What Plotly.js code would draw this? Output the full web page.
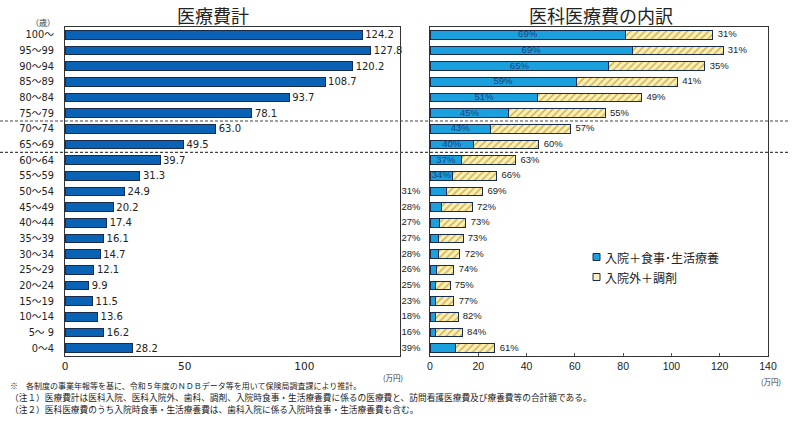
<!DOCTYPE html>
<html>
<head>
<meta charset="utf-8">
<script src="https://cdn.plot.ly/plotly-3.0.1.min.js"></script>
<style>
  html, body { margin: 0; padding: 0; background: #fff; }
  #chart { width: 800px; height: 427px; }
</style>
</head>
<body>
<div id="chart"></div>
<script>
// Age groups (top to bottom)
const ages = ['100～','95～99','90～94','85～89','80～84','75～79','70～74','65～69','60～64','55～59',
              '50～54','45～49','40～44','35～39','30～34','25～29','20～24','15～19','10～14','5～ 9','0～4'];

// Total medical expenses per person (万円)
const totalCost = [124.2,127.8,120.2,108.7,93.7,78.1,63.0,49.5,39.7,31.3,
                   24.9,20.2,17.4,16.1,14.7,12.1,9.9,11.5,13.6,16.2,28.2];

// Medical (医科) expenses per person (万円)
const ikaCost = [117.2,121.4,113.9,102.5,87.7,72.6,58.3,45.1,35.5,27.6,
                 21.8,17.5,14.9,13.7,12.4,9.9,8.3,9.9,11.6,13.4,26.9];

// Share of inpatient + meals/living care, and of outpatient + dispensing (%)
const inpatientPct  = [69,69,65,59,51,45,43,40,37,34,31,28,27,27,28,26,25,23,18,16,39];
const outpatientPct = [31,31,35,41,49,55,57,60,63,66,69,72,73,73,72,74,75,77,82,84,61];

// Series names
const seriesNames = ['入院＋食事･生活療養', '入院外＋調剤'];

const inpatientVal  = ikaCost.map((v, i) => v * inpatientPct[i] / 100);
const outpatientVal = ikaCost.map((v, i) => v * outpatientPct[i] / 100);

const NUM_FONT = 'DejaVu Sans, Verdana, Noto Sans CJK JP, sans-serif';
const JP_FONT = 'Noto Sans CJK JP, sans-serif';
const PCT_FONT = 'Liberation Sans Narrow, Liberation Sans, Arial, sans-serif';

const INP_COLOR = '#1aa0dd';
const OUT_BG = '#f9efbd';
const OUT_FG = '#d6b443';
const EDGE = '#1a2c4e';

const insideIdx = ages.map((a, i) => i).filter(i => i < 10);
const leftIdx = ages.map((a, i) => i).filter(i => i >= 10);

const traces = [
  {
    type: 'bar', orientation: 'h', x: totalCost, y: ages,
    xaxis: 'x', yaxis: 'y', width: 0.55,
    marker: { color: '#0a62b4', line: { color: EDGE, width: 1 } },
    text: totalCost.map(v => v.toFixed(1)), textposition: 'outside',
    constraintext: 'none', cliponaxis: false,
    textfont: { family: NUM_FONT, size: 10, color: '#222' },
    showlegend: false, hoverinfo: 'skip'
  },
  {
    type: 'bar', orientation: 'h', x: inpatientVal, y: ages,
    xaxis: 'x2', yaxis: 'y2', width: 0.55, name: seriesNames[0],
    marker: { color: INP_COLOR, line: { color: EDGE, width: 1 } },
    showlegend: false, hoverinfo: 'skip'
  },
  {
    type: 'bar', orientation: 'h', x: outpatientVal, y: ages,
    xaxis: 'x2', yaxis: 'y2', width: 0.55, name: seriesNames[1],
    marker: {
      color: OUT_BG,
      line: { color: EDGE, width: 1 },
      pattern: { shape: '/', fgcolor: OUT_FG, bgcolor: OUT_BG, size: 5, solidity: 0.3 }
    },
    showlegend: false, hoverinfo: 'skip'
  },
  // inpatient share written inside the bar
  {
    type: 'scatter', mode: 'text', xaxis: 'x2', yaxis: 'y2',
    x: insideIdx.map(i => inpatientVal[i] / 2), y: insideIdx.map(i => ages[i]),
    text: insideIdx.map(i => inpatientPct[i] + '%'), textposition: 'middle center',
    textfont: { family: PCT_FONT, size: 9.5, color: '#1d3f78' },
    cliponaxis: false, showlegend: false, hoverinfo: 'skip'
  },
  // inpatient share written left of the axis for the younger groups
  {
    type: 'scatter', mode: 'text', xaxis: 'x2', yaxis: 'y2',
    x: leftIdx.map(() => 0), y: leftIdx.map(i => ages[i]),
    text: leftIdx.map(i => inpatientPct[i] + '%\u2002\u2002'), textposition: 'middle left',
    textfont: { family: PCT_FONT, size: 9.5, color: '#222' },
    cliponaxis: false, showlegend: false, hoverinfo: 'skip'
  },
  // outpatient share after the end of each stack
  {
    type: 'scatter', mode: 'text', xaxis: 'x2', yaxis: 'y2',
    x: ikaCost, y: ages,
    text: outpatientPct.map(v => '\u2002' + v + '%'), textposition: 'middle right',
    textfont: { family: PCT_FONT, size: 9.5, color: '#222' },
    cliponaxis: false, showlegend: false, hoverinfo: 'skip'
  }
];

const W = 800, H = 427;
const px = v => v / W;
const py = v => 1 - v / H;
const yDomain = [py(356), py(27)];

const frame = { showline: true, mirror: true, linecolor: '#333', linewidth: 1 };

function note(text, x, y, size, anchor, color) {
  return {
    text: text, x: px(x), y: py(y), xref: 'paper', yref: 'paper',
    xanchor: anchor || 'center', yanchor: 'middle', showarrow: false,
    font: { family: JP_FONT, size: size, color: color || '#222' }
  };
}

// hand-drawn legend: small outlined squares followed by the series names
const legendRows = [
  { y: 257, fill: INP_COLOR },
  { y: 277, fill: OUT_BG }
];

const layout = {
  width: W, height: H,
  margin: { l: 0, r: 0, t: 0, b: 0 },
  paper_bgcolor: '#fff', plot_bgcolor: '#fff',
  barmode: 'stack', hovermode: false, showlegend: false,
  font: { family: JP_FONT, color: '#222' },
  xaxis: Object.assign({
    domain: [px(65), px(400)], range: [0, 140], tickvals: [0, 50, 100],
    showgrid: false, zeroline: false, ticks: '', anchor: 'y',
    tickfont: { family: NUM_FONT, size: 10.5, color: '#222' }
  }, frame),
  yaxis: Object.assign({
    domain: yDomain, type: 'category', categoryarray: ages, range: [20.5, -0.5],
    showgrid: false, zeroline: false, ticks: '', anchor: 'x', ticklabelstandoff: 8,
    tickfont: { family: NUM_FONT, size: 9.8, color: '#222' }
  }, frame),
  xaxis2: Object.assign({
    domain: [px(430), px(768)], range: [0, 140], dtick: 20,
    showgrid: false, zeroline: false, ticks: 'inside', ticklen: 3, tickcolor: '#555', anchor: 'y2',
    tickfont: { family: PCT_FONT, size: 10.5, color: '#222' }
  }, frame),
  yaxis2: Object.assign({
    domain: yDomain, type: 'category', categoryarray: ages, range: [20.5, -0.5],
    showgrid: false, zeroline: false, ticks: '', showticklabels: false, anchor: 'x2'
  }, frame),
  shapes: [5.5, 7.5].map(v => ({
    type: 'line', xref: 'paper', yref: 'y', x0: 0, x1: px(788), y0: v, y1: v,
    line: { color: '#444', width: 1.2, dash: '3px,2px' }
  })).concat(legendRows.map(r => ({
    type: 'rect', xref: 'paper', yref: 'paper',
    x0: px(593), x1: px(600), y0: py(r.y + 3.5), y1: py(r.y - 3.5),
    fillcolor: r.fill, line: { color: EDGE, width: 1 }
  }))),
  annotations: [
    note('医療費計', 213, 15, 18),
    note('医科医療費の内訳', 601, 15, 18),
    note('（歳）', 43, 22, 8, 'center', '#333'),
    note('(万円)', 393, 377, 7.5, 'center', '#333'),
    note('(万円)', 771, 381, 7.5, 'center', '#333'),
    note(seriesNames[0], 603, 257, 12, 'left'),
    note(seriesNames[1], 603, 277, 12, 'left'),
    note('※　各制度の事業年報等を基に、令和５年度のＮＤＢデータ等を用いて保険局調査課により推計。', 8, 385, 8, 'left'),
    note('（注１）医療費計は医科入院、医科入院外、歯科、調剤、入院時食事・生活療養費に係るの医療費と、訪問看護医療費及び療養費等の合計額である。', 8, 397, 8.7, 'left'),
    note('（注２）医科医療費のうち入院時食事・生活療養費は、歯科入院に係る入院時食事・生活療養費も含む。', 8, 409, 8.7, 'left')
  ]
};

Plotly.newPlot('chart', traces, layout, { staticPlot: true, displayModeBar: false });
</script>
</body>
</html>
